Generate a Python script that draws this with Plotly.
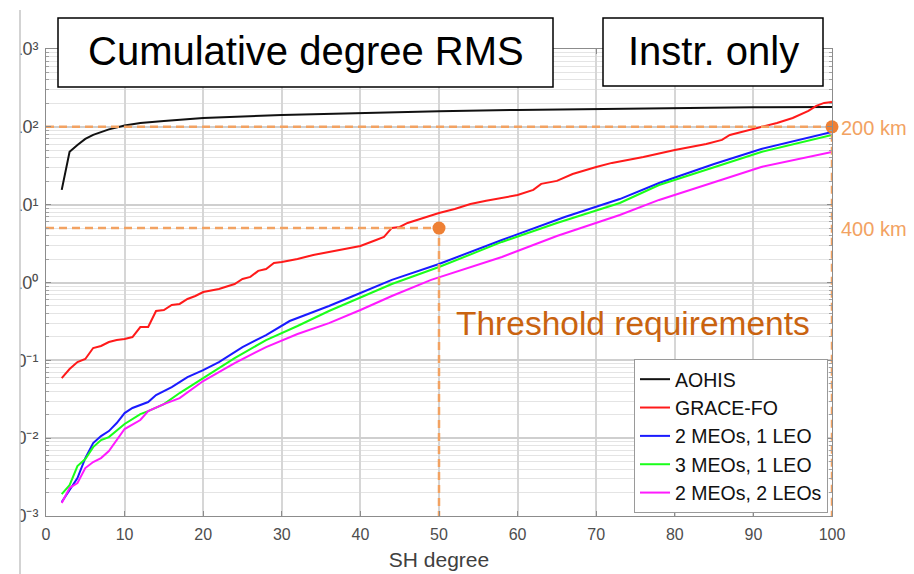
import math
import plotly.graph_objects as go

# ---------------- data ----------------
aohis_deg = [2, 3, 4, 5, 6, 8, 10, 12, 15, 20, 30, 40, 50, 60, 70, 80, 90, 100]
aohis_val = [15.5, 47.7, 58.5, 69.9, 78.7, 92.7, 104, 112, 119, 130, 142, 151, 158, 165, 170, 175, 178, 180]

grace_deg = [2, 3, 4, 5, 6, 7, 8, 9, 10, 11, 12, 13, 14, 15, 16, 17, 18, 19, 20, 22, 24, 25, 26, 27, 28, 29,
             30, 32, 34, 36, 38, 40, 42, 43, 44, 45, 46, 48, 50, 52, 54, 56, 58, 60, 62, 63, 65, 67, 70, 72,
             76, 80, 84, 86, 87, 90, 93, 95, 97, 98, 99, 100]
grace_val = [0.0592, 0.0773, 0.0951, 0.104, 0.144, 0.153, 0.172, 0.182, 0.188, 0.199, 0.268, 0.268, 0.430,
             0.443, 0.514, 0.530, 0.614, 0.671, 0.755, 0.824, 0.957, 1.11, 1.18, 1.41, 1.49, 1.78, 1.83, 2.00,
             2.26, 2.47, 2.70, 2.94, 3.52, 3.84, 5.02, 5.17, 5.82, 6.75, 7.82, 8.81, 10.2, 11.2, 12.2, 13.3,
             15.5, 18.5, 20.2, 24.8, 30.5, 34.4, 41.0, 50.5, 60.3, 67.9, 78.7, 94.0, 112, 130, 160, 186, 203, 209]

meo2leo1_deg = [2, 3, 4, 5, 6, 7, 8, 9, 10, 11, 12, 13, 14, 15, 16, 17, 18, 20, 22, 25, 28, 31, 33, 36, 40,
                44, 50, 58, 66, 73, 78, 85, 91, 100]
meo2leo1_val = [0.00151, 0.00215, 0.00307, 0.00555, 0.00865, 0.01064, 0.01233, 0.01563, 0.0210, 0.0244,
                0.0266, 0.0291, 0.0358, 0.0403, 0.0454, 0.0526, 0.0610, 0.0750, 0.0951, 0.148, 0.211, 0.320,
                0.382, 0.499, 0.733, 1.08, 1.73, 3.52, 6.95, 11.8, 19.0, 33.3, 52.0, 86.0]

meo3leo1_deg = [2, 3, 4, 5, 6, 7, 8, 10, 12, 13, 15, 17, 20, 24, 28, 32, 36, 39, 44, 50, 58, 65, 73, 78,
                91, 100]
meo3leo1_val = [0.00191, 0.00249, 0.00438, 0.00538, 0.00767, 0.00946, 0.01033, 0.0152, 0.0204, 0.0223,
                0.0274, 0.0380, 0.0592, 0.107, 0.182, 0.276, 0.430, 0.578, 0.957, 1.58, 3.32, 5.82, 10.5,
                17.9, 47.5, 78.7]

meo2leo2_deg = [2, 3, 4, 5, 6, 7, 8, 9, 10, 12, 13, 15, 17, 20, 24, 28, 32, 36, 40, 44, 49, 58, 65, 73, 78,
                91, 100]
meo2leo2_val = [0.00147, 0.00229, 0.00265, 0.00413, 0.00493, 0.00555, 0.00683, 0.00946, 0.0131, 0.0171,
                0.0223, 0.0274, 0.0327, 0.0542, 0.0923, 0.148, 0.218, 0.301, 0.443, 0.671, 1.08, 2.13, 3.96,
                7.38, 11.5, 30.5, 47.5]

series_names = ["AOHIS", "GRACE-FO", "2 MEOs, 1 LEO", "3 MEOs, 1 LEO", "2 MEOs, 2 LEOs"]
series_deg = [aohis_deg, grace_deg, meo2leo1_deg, meo3leo1_deg, meo2leo2_deg]
series_val = [aohis_val, grace_val, meo2leo1_val, meo3leo1_val, meo2leo2_val]
series_colors = ["#111111", "#ff1a1a", "#1a1aff", "#1aff1a", "#ff1aff"]

threshold_deg = [50, 100]
threshold_val = [5, 100]
threshold_lbl = ["400 km", "200 km"]

x_ticks = [0, 10, 20, 30, 40, 50, 60, 70, 80, 90, 100]
y_exponents = [-3, -2, -1, 0, 1, 2, 3]
y_ticks = [10.0 ** e for e in y_exponents]
y_ticktext = ["10\u207b\u00b3", "10\u207b\u00b2", "10\u207b\u00b9", "10\u2070", "10\u00b9", "10\u00b2", "10\u00b3"]
y_min = 1e-3

# ---------------- figure ----------------
FONT = "Liberation Sans, Arial, sans-serif"
W, H = 914, 574
L, R, T, B = 46, 82, 49, 58
PW, PH = W - L - R, H - T - B


def px(xp):
    return (xp - L) / PW


def py(yp):
    return (H - B - yp) / PH


fig = go.Figure()

for name, d, v, c in zip(series_names, series_deg, series_val, series_colors):
    fig.add_trace(go.Scatter(x=d, y=v, mode="lines", name=name,
                             line=dict(color=c, width=2)))

LINE_ORANGE = "#F2A262"
for d, v in zip(threshold_deg, threshold_val):
    fig.add_trace(go.Scatter(x=[0, d, d], y=[v, v, y_min], mode="lines", showlegend=False,
                             hoverinfo="skip",
                             line=dict(color=LINE_ORANGE, width=2.5, dash="8px,5px")))
fig.add_trace(go.Scatter(x=threshold_deg, y=threshold_val, mode="markers", showlegend=False,
                         cliponaxis=False,
                         marker=dict(color="#EE8034", size=13)))

annotations = []
for d, v, lbl in zip(threshold_deg, threshold_val, threshold_lbl):
    annotations.append(dict(x=100, y=math.log10(v), xref="x", yref="y", text=lbl,
                            showarrow=False, xanchor="left", yanchor="middle", xshift=7, yshift=-1,
                            font=dict(family=FONT, size=20, color=LINE_ORANGE)))

annotations.append(dict(x=px(633), y=py(323), xref="paper", yref="paper", text="Threshold requirements",
                        showarrow=False, xanchor="center", yanchor="middle",
                        font=dict(family=FONT, size=33.5, color="#C9630F")))

annotations.append(dict(x=px(305.5), y=py(51), xref="paper", yref="paper", text="Cumulative degree RMS",
                        showarrow=False, xanchor="center", yanchor="middle",
                        font=dict(family=FONT, size=40, color="#000000")))
annotations.append(dict(x=px(713), y=py(51), xref="paper", yref="paper", text="Instr. only",
                        showarrow=False, xanchor="center", yanchor="middle",
                        font=dict(family=FONT, size=40, color="#000000")))

shapes = [
    dict(type="rect", xref="paper", yref="paper", x0=px(58), x1=px(553), y0=py(87), y1=py(18),
         fillcolor="white", line=dict(color="black", width=1.5), layer="above"),
    dict(type="rect", xref="paper", yref="paper", x0=px(603), x1=px(823), y0=py(86), y1=py(18),
         fillcolor="white", line=dict(color="black", width=1.5), layer="above"),
    dict(type="rect", xref="paper", yref="paper", x0=px(-2), x1=px(20), y0=py(H + 2), y1=py(-2),
         fillcolor="white", line=dict(width=0), layer="above"),
    dict(type="line", xref="paper", yref="paper", x0=px(20), x1=px(20), y0=py(H), y1=py(10),
         line=dict(color="#c4c4c4", width=1.5), layer="above"),
]

minor_vals = [m * 10.0 ** e for e in y_exponents[:-1] for m in range(2, 10)]

fig.update_layout(
    width=W, height=H,
    margin=dict(l=L, r=R, t=T, b=B, pad=0, autoexpand=False),
    paper_bgcolor="white", plot_bgcolor="white",
    font=dict(family=FONT, color="#4d4d4d"),
    showlegend=True,
    legend=dict(x=px(828), xanchor="right", y=py(513), yanchor="bottom",
                bgcolor="white", bordercolor="#9a9a9a", borderwidth=1,
                font=dict(family=FONT, size=19.5, color="#111111"),
                tracegroupgap=0, itemwidth=30),
    annotations=annotations,
    shapes=shapes,
)

fig.update_xaxes(range=[0, 100], tickvals=x_ticks, showgrid=True, gridcolor="#d6d6d6", gridwidth=1.5,
                 zeroline=False, ticks="inside", ticklen=5, tickcolor="#8c8c8c", automargin=False,
                 ticklabelstandoff=4,
                 showline=True, linecolor="#8c8c8c", linewidth=1, mirror="ticks",
                 tickfont=dict(family=FONT, size=16, color="#4d4d4d"),
                 title=dict(text="SH degree", font=dict(family=FONT, size=21, color="#404040"), standoff=10))

fig.update_yaxes(type="log", range=[-3, 3], tickvals=y_ticks, ticktext=y_ticktext,
                 showgrid=True, gridcolor="#cfcfcf", gridwidth=1.5, zeroline=False, automargin=False,
                 ticks="inside", ticklen=5, tickcolor="#8c8c8c", ticklabelstandoff=3,
                 showline=True, linecolor="#8c8c8c", linewidth=1, mirror="ticks",
                 tickfont=dict(family=FONT, size=18, color="#4d4d4d"),
                 minor=dict(tickvals=minor_vals, showgrid=True, gridcolor="#e4e4e4", gridwidth=1,
                            ticks="inside", ticklen=3, tickcolor="#a0a0a0"))

fig.write_html("out.html",
               config={"displayModeBar": False},
               post_script="document.body.style.margin='0';document.body.style.overflow='hidden';")
